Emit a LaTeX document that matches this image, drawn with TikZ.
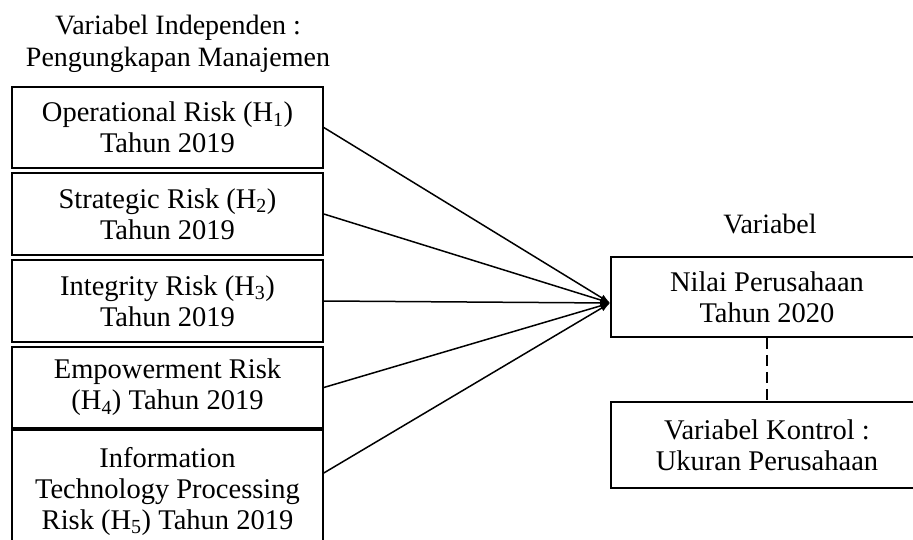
\documentclass[tikz,border=0pt]{standalone}
\usepackage{fontspec}
\setmainfont{Liberation Serif}
\usepackage{tikz}
\usetikzlibrary{arrows.meta}

\tikzset{
  box/.style={draw, line width=1.6pt, align=center, inner sep=0pt, minimum width=311pt, font=\fontsize{28.5}{31}\selectfont},
  lbl/.style={align=center, inner sep=0pt, font=\fontsize{28}{32}\selectfont},
  conn/.style={line width=1.5pt, -{Latex[length=10pt,width=7pt]}}
}

\begin{document}
\begin{tikzpicture}[x=1pt,y=-1pt]
\clip (0,0) rectangle (913,540);
\node[lbl] (judul) at (178,44) {Variabel Independen :\\Pengungkapan Manajemen};
\node[box, minimum height=81pt] (opr) at (167.5,127.5) {Operational Risk (H\textsubscript{1})\\Tahun 2019};
\node[box, minimum height=82pt] (str) at (167.5,214) {Strategic Risk (H\textsubscript{2})\\Tahun 2019};
\node[box, minimum height=82pt] (itg) at (167.5,301) {Integrity Risk (H\textsubscript{3})\\Tahun 2019};
\node[box, minimum height=81pt] (emp) at (167.5,387.5) {Empowerment Risk\\(H\textsubscript{4}) Tahun 2019};
\node[box, minimum height=122pt] (itp) at (167.5,491) {Information\\Technology Processing\\Risk (H\textsubscript{5}) Tahun 2019};

\node[lbl] (var) at (770,224) {Variabel};
\node[box, minimum width=312pt, minimum height=80pt] (nilai) at (767,297) {Nilai Perusahaan\\Tahun 2020};
\node[box, minimum width=312pt, minimum height=86pt] (kontrol) at (767,445) {Variabel Kontrol :\\Ukuran Perusahaan};
\coordinate (tip) at ([yshift=-6pt]nilai.west);

\draw[conn] (opr.east) -- (tip);
\draw[conn] (str.east) -- (tip);
\draw[conn] (itg.east) -- (tip);
\draw[conn] (emp.east) -- (tip);
\draw[conn] ([yshift=18pt]itp.east) -- (tip);
\draw[line width=1.4pt, dash pattern=on 11pt off 6pt] (nilai.south) -- (kontrol.north);
\end{tikzpicture}
\end{document}
